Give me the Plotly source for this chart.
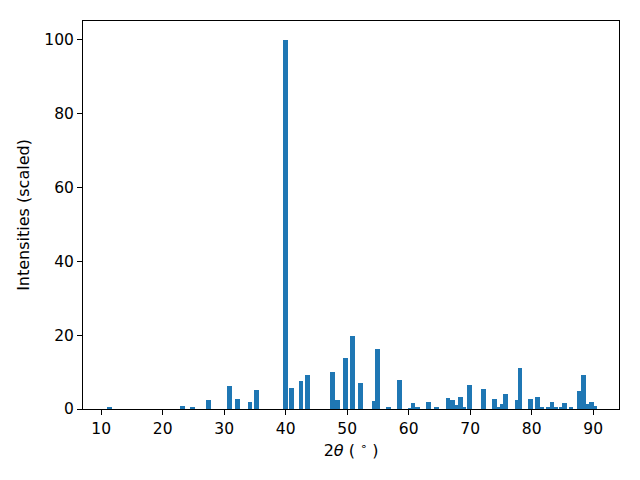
import plotly.graph_objects as go

# peak positions (2theta, degrees) and scaled intensities
two_theta = [11.4, 23.2, 24.8, 27.4, 30.8, 32.1, 34.2, 35.2, 39.9, 40.9,
             42.5, 43.5, 47.6, 48.4, 49.8, 50.8, 52.1, 54.4, 55.0, 56.7,
             58.5, 60.3, 60.7, 61.4, 63.2, 64.5, 66.4, 67.2, 68.0, 68.4,
             68.9, 69.9, 72.1, 73.9, 74.5, 75.3, 75.7, 77.7, 78.1, 79.8,
             81.0, 81.6, 82.8, 83.3, 83.9, 84.9, 85.3, 86.4, 87.8, 88.4,
             88.9, 89.7, 90.2]
intensity = [0.4, 0.8, 0.3, 2.4, 6.2, 2.7, 1.9, 5.1, 100.0, 5.7,
             7.6, 9.2, 10.0, 2.4, 13.8, 19.8, 7.0, 2.2, 16.3, 0.3,
             7.9, 0.2, 1.6, 0.3, 1.9, 0.3, 3.0, 2.4, 1.1, 3.3,
             0.3, 6.5, 5.4, 2.7, 0.3, 1.4, 4.1, 2.4, 11.1, 2.7,
             3.3, 0.3, 0.5, 1.9, 0.3, 0.3, 1.6, 0.3, 4.9, 9.2,
             1.4, 1.9, 0.8]

x_ticks = [10, 20, 30, 40, 50, 60, 70, 80, 90]
y_ticks = [0, 20, 40, 60, 80, 100]

fig = go.Figure()
fig.add_trace(go.Bar(x=two_theta, y=intensity, width=0.8,
                     marker=dict(color='#1f77b4', line=dict(width=0))))

axis_style = dict(showline=True, linecolor='black', linewidth=1, mirror=True,
                  ticks='outside', ticklen=5, tickwidth=1, tickcolor='black',
                  showgrid=False, zeroline=False,
                  tickfont=dict(family='DejaVu Sans', size=15.5, color='black'),
                  title_font=dict(family='DejaVu Sans', size=16, color='black'))

# page body has an 8px margin, so the figure is shrunk by that much
fig.update_layout(
    width=632, height=472,
    margin=dict(l=75, r=21, t=13, b=71),
    plot_bgcolor='white', paper_bgcolor='white',
    showlegend=False, bargap=0,
    xaxis=dict(range=[7.05, 94.2], tickvals=x_ticks,
               title=dict(text='2<i>θ</i> ( <sup>∘</sup> )', standoff=8), **axis_style),
    yaxis=dict(range=[0, 105.1], tickvals=y_ticks,
               title=dict(text='Intensities (scaled)', standoff=10), **axis_style),
)

fig.write_html("out.html")
